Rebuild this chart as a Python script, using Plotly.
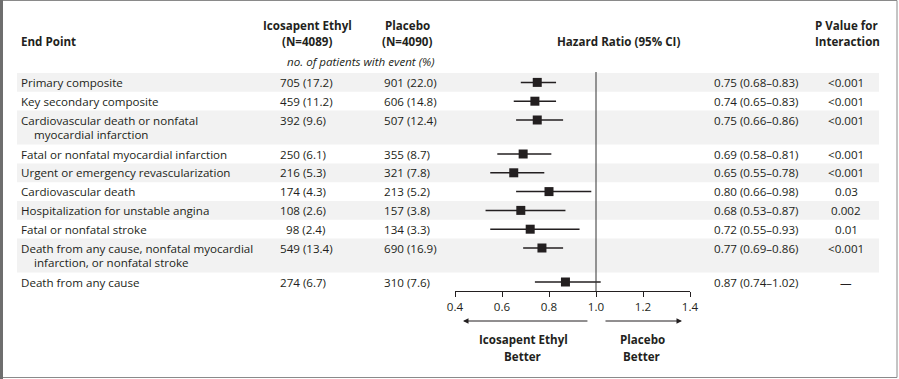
import plotly.graph_objects as go

W, H = 899, 379

# ---------------- data ----------------
endpoint_line1 = [
    "Primary composite",
    "Key secondary composite",
    "Cardiovascular death or nonfatal",
    "Fatal or nonfatal myocardial infarction",
    "Urgent or emergency revascularization",
    "Cardiovascular death",
    "Hospitalization for unstable angina",
    "Fatal or nonfatal stroke",
    "Death from any cause, nonfatal myocardial",
    "Death from any cause",
]
endpoint_line2 = ["", "", "myocardial infarction", "", "", "", "", "",
                  "infarction, or nonfatal stroke", ""]
ico_n = [705, 459, 392, 250, 216, 174, 108, 98, 549, 274]
ico_pct = ["17.2", "11.2", "9.6", "6.1", "5.3", "4.3", "2.6", "2.4", "13.4", "6.7"]
pla_n = [901, 606, 507, 355, 321, 213, 157, 134, 690, 310]
pla_pct = ["22.0", "14.8", "12.4", "8.7", "7.8", "5.2", "3.8", "3.3", "16.9", "7.6"]
hr = [0.75, 0.74, 0.75, 0.69, 0.65, 0.80, 0.68, 0.72, 0.77, 0.87]
ci_lo = [0.68, 0.65, 0.66, 0.58, 0.55, 0.66, 0.53, 0.55, 0.69, 0.74]
ci_hi = [0.83, 0.83, 0.86, 0.81, 0.78, 0.98, 0.87, 0.93, 0.86, 1.02]
p_val = ["<0.001", "<0.001", "<0.001", "<0.001", "<0.001", "0.03", "0.002",
         "0.01", "<0.001", "\u2014"]
tick_vals = [0.4, 0.6, 0.8, 1.0, 1.2, 1.4]

# ---------------- layout helpers ----------------
FONT = "Open Sans"
TXT = "#231f20"
FS = 11.6
SINGLE, DOUBLE = 18.8, 34.0
TOP = 73.0

row_top, row_bot, row_y = [], [], []
y = TOP
for l2 in endpoint_line2:
    h = DOUBLE if l2 else SINGLE
    row_top.append(y)
    row_y.append(y + 9.4)
    y += h
    row_bot.append(y)
axis_y = y

def px(x):
    return x / W

shapes = []
annotations = []

def text(x, yy, s, anchor="left", bold=False, italic=False, size=FS):
    if bold:
        s = "<b>" + s + "</b>"
    if italic:
        s = "<i>" + s + "</i>"
    annotations.append(dict(x=px(x), y=yy, xref="paper", yref="y", text=s,
                            showarrow=False, xanchor=anchor, yanchor="middle",
                            font=dict(family=FONT, size=size, color=TXT)))

# bands
for i in range(len(hr)):
    if i % 2 == 0:
        shapes.append(dict(type="rect", xref="paper", yref="y",
                           x0=px(17), x1=px(879), y0=row_top[i], y1=row_bot[i],
                           fillcolor="#f2f2f2", line=dict(width=0), layer="below"))

# frame
shapes.append(dict(type="rect", xref="paper", yref="y", x0=px(1), x1=px(897),
                   y0=0.5, y1=377.5, line=dict(color="#8a8a8a", width=1)))
shapes.append(dict(type="line", xref="paper", yref="y", x0=px(1.5), x1=px(1.5),
                   y0=0, y1=379, line=dict(color="#6e6e6e", width=3)))

# reference line at HR = 1
shapes.append(dict(type="line", xref="x", yref="y", x0=1.0, x1=1.0,
                   y0=row_top[0] - 1, y1=axis_y, line=dict(color="#333333", width=1)))

# headers
text(19, 41, "End Point", bold=True)
text(307, 25, "Icosapent Ethyl", anchor="center", bold=True)
text(307, 41, "(N=4089)", anchor="center", bold=True)
text(407, 25, "Placebo", anchor="center", bold=True)
text(407, 41, "(N=4090)", anchor="center", bold=True)
text(437, 61, "no. of patients with event (%)", anchor="right", italic=True)
text(618, 41, "Hazard Ratio (95% CI)", anchor="center", bold=True)
text(847, 25, "P Value for", anchor="center", bold=True)
text(847, 41, "Interaction", anchor="center", bold=True)

# rows
for i in range(len(hr)):
    yy = row_y[i]
    text(19, yy, endpoint_line1[i])
    if endpoint_line2[i]:
        text(32, yy + 14, endpoint_line2[i])
    text(278 + (6 if ico_n[i] < 100 else 0), yy, f"{ico_n[i]} ({ico_pct[i]})")
    text(382 + (6 if pla_n[i] < 100 else 0), yy, f"{pla_n[i]} ({pla_pct[i]})")
    text(712, yy, f"{hr[i]:.2f} ({ci_lo[i]:.2f}\u2013{ci_hi[i]:.2f})")
    text(846, yy, p_val[i], anchor="center")

# direction arrows
arrow_y = 321
annotations.append(dict(x=0.434, y=arrow_y, ax=0.97, ay=arrow_y, xref="x", yref="y",
                        axref="x", ayref="y", text="", showarrow=True, arrowhead=2,
                        arrowsize=1.1, arrowwidth=1, arrowcolor=TXT))
annotations.append(dict(x=1.366, y=arrow_y, ax=1.034, ay=arrow_y, xref="x", yref="y",
                        axref="x", ayref="y", text="", showarrow=True, arrowhead=2,
                        arrowsize=1.1, arrowwidth=1, arrowcolor=TXT))
text(523, 339, "Icosapent Ethyl", anchor="center", bold=True)
text(523, 356, "Better", anchor="center", bold=True)
text(642, 339, "Placebo", anchor="center", bold=True)
text(642, 356, "Better", anchor="center", bold=True)

fig = go.Figure()
fig.add_trace(go.Scatter(
    x=hr, y=row_y, mode="markers",
    marker=dict(symbol="square", size=9, color=TXT, line=dict(width=0)),
    error_x=dict(type="data", symmetric=False,
                 array=[h_ - m for h_, m in zip(ci_hi, hr)],
                 arrayminus=[m - l for m, l in zip(hr, ci_lo)],
                 thickness=1.5, width=0, color=TXT),
    cliponaxis=False, hoverinfo="skip", showlegend=False,
))

fig.update_layout(
    template="none",
    width=W, height=H, margin=dict(l=0, r=0, t=0, b=0, pad=0, autoexpand=False),
    paper_bgcolor="white", plot_bgcolor="rgba(0,0,0,0)",
    shapes=shapes, annotations=annotations, showlegend=False,
    xaxis=dict(domain=[455 / W, 690 / W], range=[0.4, 1.4], anchor="free",
               position=1 - axis_y / H, showline=True, linecolor=TXT, linewidth=1,
               ticks="outside", ticklen=5, tickcolor=TXT, tickwidth=1,
               tickvals=tick_vals, tickformat=".1f", showgrid=False, zeroline=False,
               automargin=False, fixedrange=True,
               tickfont=dict(family=FONT, size=FS, color=TXT)),
    yaxis=dict(range=[H, 0], domain=[0, 1], visible=False, fixedrange=True,
               automargin=False, showgrid=False, zeroline=False),
)

post = (
    "document.documentElement.style.margin='0';"
    "document.documentElement.style.padding='0';"
    "document.documentElement.style.overflow='hidden';"
    "document.body.style.margin='0';"
    "document.body.style.padding='0';"
    "document.body.style.overflow='hidden';"
    "var d=document.getElementById('{plot_id}');"
    "d.style.position='fixed';d.style.left='0px';d.style.top='0px';"
)
fig.write_html("out.html", config={"displayModeBar": False}, post_script=post)
